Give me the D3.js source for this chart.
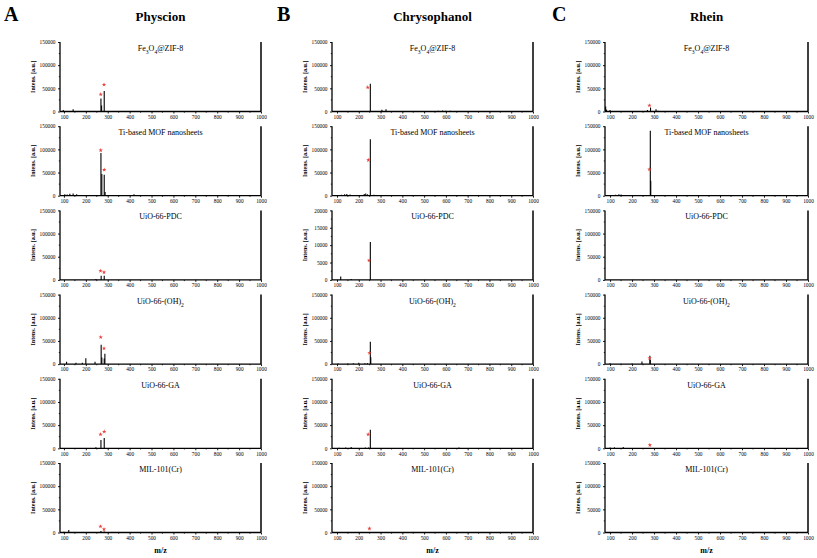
<!DOCTYPE html>
<html>
<head>
<meta charset="utf-8">
<script src="https://cdn.jsdelivr.net/npm/d3@7"></script>
<style>
  html, body { margin: 0; padding: 0; background: #fff; }
  svg { display: block; font-family: "Liberation Serif", "Times New Roman", serif; }
</style>
</head>
<body>
<svg id="chart" width="817" height="558"></svg>
<script>
// ---------------- DATA ----------------
const panelLetters = ["A", "B", "C"];
const compounds = ["Physcion", "Chrysophanol", "Rhein"];
const materials = ["Fe_3O_4@ZIF-8", "Ti-based MOF nanosheets", "UiO-66-PDC", "UiO-66-(OH)_2", "UiO-66-GA", "MIL-101(Cr)"];
const xTicks = [100, 200, 300, 400, 500, 600, 700, 800, 900, 1000];
const yTicksDefault = [0, 50000, 100000, 150000];
const yTicksSmall = [0, 5000, 10000, 15000, 20000];
const yMaxPhyscion = [150000, 150000, 150000, 150000, 150000, 150000];
const yMaxChrysophanol = [150000, 150000, 20000, 150000, 150000, 150000];
const yMaxRhein = [150000, 150000, 150000, 150000, 150000, 150000];

// peaks: [m/z, intensity]
const physcionPeaks = [
  [[97, 3000], [142, 5000], [269, 28000], [272, 13000], [284, 44000]],
  [[104, 3000], [115, 2500], [127, 4000], [142, 5000], [158, 3000], [269, 92000], [273, 47000], [284, 45000], [288, 8000], [420, 3000]],
  [[246, 2000], [270, 9000], [284, 9000]],
  [[112, 5000], [155, 3000], [184, 3000], [200, 12500], [242, 5000], [270, 41500], [273, 14000], [284, 12000], [287, 22500]],
  [[246, 2000], [269, 18000], [284, 22000]],
  [[100, 1500], [122, 5500], [269, 3000], [284, 2000], [585, 1000]]
];
const chrysophanolPeaks = [
  [[110, 1000], [150, 1000], [190, 1000], [253, 60000], [306, 4000], [325, 5000], [565, 1500], [585, 2000], [600, 1500], [620, 1500]],
  [[120, 2000], [135, 3000], [145, 3500], [160, 2500], [225, 3500], [232, 4500], [240, 3000], [253, 122000], [270, 2000]],
  [[117, 1000], [165, 250], [253, 10900]],
  [[105, 1500], [150, 1500], [175, 2000], [200, 3000], [228, 2000], [240, 2000], [253, 48000], [255, 15000]],
  [[110, 1000], [140, 1500], [165, 3000], [230, 1500], [245, 1500], [253, 40000], [660, 1500]],
  []
];
const rheinPeaks = [
  [[80, 11000], [84, 4000], [100, 3000], [270, 3500], [284, 8500], [309, 5000], [318, 1500]],
  [[110, 1500], [125, 2000], [140, 3000], [150, 2500], [160, 1500], [283, 140000], [285, 32000], [300, 1500], [320, 1000]],
  [],
  [[100, 2000], [150, 1000], [200, 1500], [245, 5500], [281, 18000], [283, 9000]],
  [[100, 1500], [120, 2000], [160, 3000]],
  []
];
// red asterisk markers: [m/z, height]
const physcionStars = [
  [[268, 37000], [283, 58000]], [[268, 98000], [284, 56000]], [[267, 19500], [283, 16500]],
  [[268, 58000], [283, 34000]], [[267, 30000], [284, 36000]], [[267, 13000], [283, 7000]]
];
const chrysophanolStars = [
  [[241, 52000]], [[244, 77000]], [[247, 5600]], [[249, 24000]], [[243, 30000]], [[249, 8500]]
];
const rheinStars = [
  [[279, 13000]], [[279, 57000]], [], [[280, 13000]], [[281, 7000]], []
];

const peaksByCompound = [physcionPeaks, chrysophanolPeaks, rheinPeaks];
const starsByCompound = [physcionStars, chrysophanolStars, rheinStars];
const yMaxByCompound = [yMaxPhyscion, yMaxChrysophanol, yMaxRhein];

// ---------------- LAYOUT ----------------
const colLeft = [60, 332, 605];
const colWidth = [201, 201, 203];
const xMin = [82, 77, 77];
const letterX = [4, 277, 552];
const rowTop0 = 42, rowStep = 84.2, panelH = 69.5;

const svg = d3.select("#chart");

function richText(sel, str, size) {
  const parts = str.split(/(_\d)/);
  parts.forEach(p => {
    if (p.startsWith("_")) {
      sel.append("tspan").attr("baseline-shift", "sub").attr("font-size", size * 0.7).text(p.slice(1));
    } else if (p.length) {
      sel.append("tspan").text(p);
    }
  });
}

compounds.forEach((comp, c) => {
  const left = colLeft[c], w = colWidth[c];
  svg.append("text").attr("x", letterX[c]).attr("y", 21)
    .attr("font-size", 20).attr("font-weight", "bold").text(panelLetters[c]);
  svg.append("text").attr("x", left + w / 2).attr("y", 21)
    .attr("text-anchor", "middle").attr("font-size", 13).attr("font-weight", "bold").text(comp);

  materials.forEach((mat, r) => {
    const top = rowTop0 + r * rowStep;
    const bottom = top + panelH;
    const yMax = yMaxByCompound[c][r];
    const x = d3.scaleLinear().domain([xMin[c], 1000]).range([left, left + w]);
    const y = d3.scaleLinear().domain([0, yMax]).range([bottom, top]);
    const g = svg.append("g");

    g.selectAll("line.peak").data(peaksByCompound[c][r]).join("line")
      .attr("class", "peak")
      .attr("x1", d => x(d[0])).attr("x2", d => x(d[0]))
      .attr("y1", y(0)).attr("y2", d => y(d[1]))
      .attr("stroke", "#000").attr("stroke-width", 1.1);

    g.selectAll("path.star").data(starsByCompound[c][r]).join("path")
      .attr("class", "star")
      .attr("transform", d => `translate(${x(d[0])},${y(d[1])})`)
      .attr("d", d3.symbol(d3.symbolStar, 6))
      .attr("fill", "#e8403a");

    const xAxis = d3.axisBottom(x).tickValues(xTicks).tickSize(2).tickPadding(1.5).tickFormat(d3.format("d"));
    const xa = g.append("g").attr("transform", `translate(0,${bottom})`).call(xAxis);
    const minor = xTicks.map(t => t - 50).filter(t => t > xMin[c]);
    g.selectAll("line.minx").data(minor).join("line").attr("class", "minx")
      .attr("x1", d => x(d)).attr("x2", d => x(d)).attr("y1", bottom).attr("y2", bottom + 1.2)
      .attr("stroke", "#000").attr("stroke-width", 0.8);

    const yt = yMax === 20000 ? yTicksSmall : yTicksDefault;
    const yAxis = d3.axisLeft(y).tickValues(yt).tickSize(2).tickPadding(2.5).tickFormat(d3.format("d"));
    const ya = g.append("g").attr("transform", `translate(${left},0)`).call(yAxis);
    const yMinor = yt.slice(1).map((t, i) => (t + yt[i]) / 2);
    g.selectAll("line.miny").data(yMinor).join("line").attr("class", "miny")
      .attr("x1", left).attr("x2", left - 1.2).attr("y1", d => y(d)).attr("y2", d => y(d))
      .attr("stroke", "#000").attr("stroke-width", 0.8);

    [xa, ya].forEach(a => {
      a.selectAll(".domain").attr("stroke-width", 1.3);
      a.selectAll(".tick line").attr("stroke-width", 0.9);
      a.selectAll("text").attr("font-size", 5.3).attr("font-family", "Liberation Serif");
    });
    ya.selectAll(".domain").attr("d", `M0,${bottom}V${top}`);
    xa.selectAll(".domain").attr("d", `M${left},0H${left + w}`);

    g.append("line").attr("x1", left + w).attr("x2", left + w).attr("y1", bottom).attr("y2", top)
      .attr("stroke", "#000").attr("stroke-width", 1.5);

    const st = g.append("text").attr("x", left + w / 2).attr("y", top + 9)
      .attr("text-anchor", "middle").attr("font-size", 8);
    richText(st, mat, 8);

    g.append("text")
      .attr("transform", `translate(${left - 25},${(top + bottom) / 2}) rotate(-90)`)
      .attr("text-anchor", "middle").attr("font-size", 6).attr("font-weight", "bold")
      .text("Intens. [a.u.]");
  });

  svg.append("text").attr("x", left + w / 2).attr("y", 553)
    .attr("text-anchor", "middle").attr("font-size", 8).attr("font-weight", "bold").text("m/z");
});
</script>
</body>
</html>
